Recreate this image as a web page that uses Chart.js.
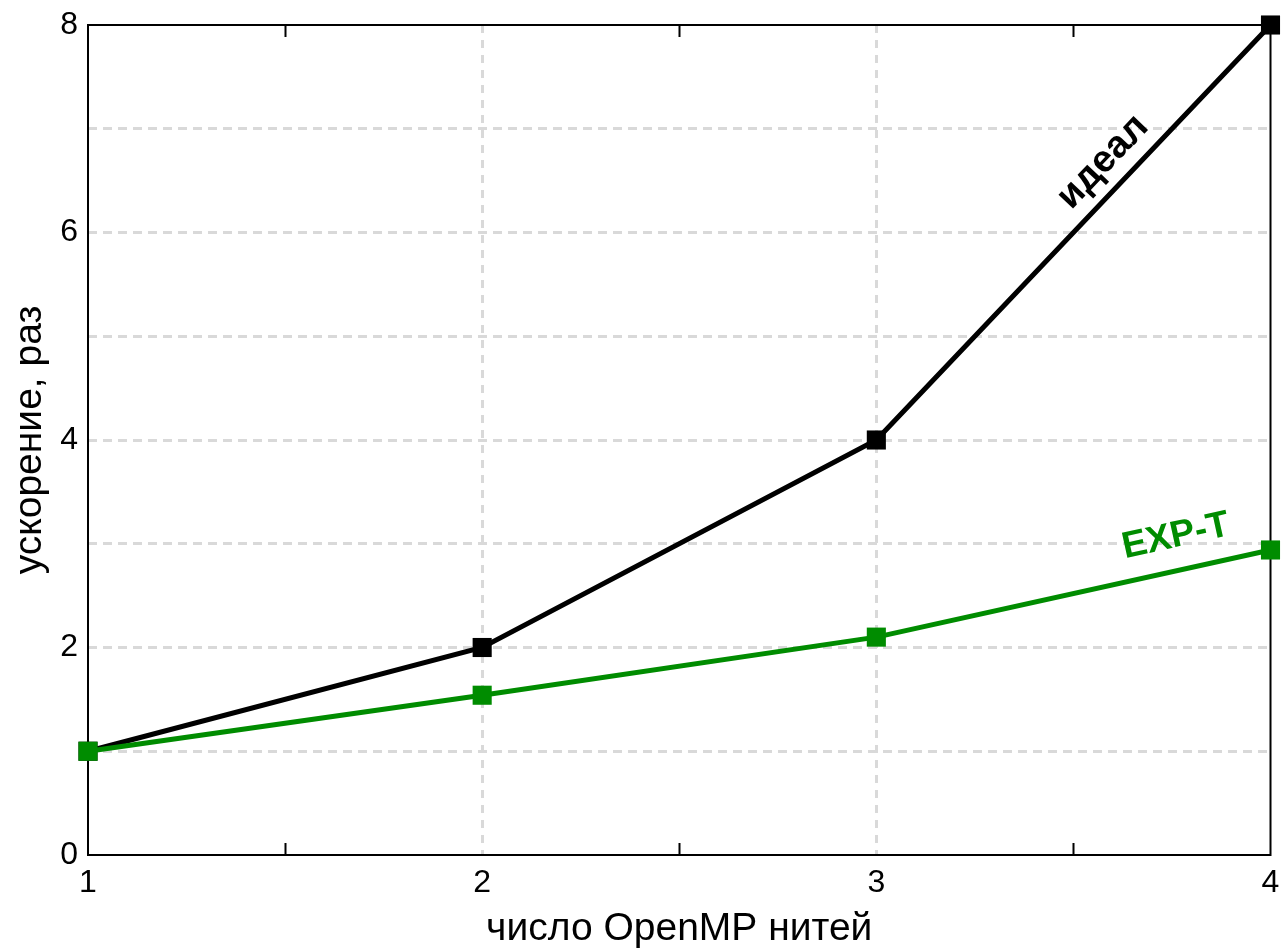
<!DOCTYPE html>
<html>
<head>
<meta charset="utf-8">
<script src="https://cdn.jsdelivr.net/npm/chart.js@4/dist/chart.umd.min.js"></script>
<style>
  html, body { margin: 0; padding: 0; background: #ffffff; }
  #wrap { width: 1284px; height: 949px; }
</style>
</head>
<body>
<div id="wrap"><canvas id="c" width="1284" height="949"></canvas></div>
<script>
// ---- data ----
const threads = [1, 2, 3, 4];
const idealSpeedup = [1, 2, 4, 8];
const expTSpeedup = [1, 1.54, 2.10, 2.94];
const xTickValues = [1, 2, 3, 4];
const xMinorTicks = [1.5, 2.5, 3.5];
const yLabelValues = [0, 2, 4, 6, 8];
const xTitle = 'число OpenMP нитей';
const yTitle = 'ускорение, раз';
const seriesNames = ['идеал', 'EXP-T'];

const FONT = '"Liberation Sans", Arial, Helvetica, sans-serif';
const GREEN = '#008c00';
const GRID = '#d9d9d9';

// in-plot series labels (anchor in data coords; angle follows last segment)
const lineLabels = [
  { text: seriesNames[0], ds: 1, x: 3.575, y: 6.68, color: '#000000', size: 38 },
  { text: seriesNames[1], ds: 0, x: 3.76, y: 3.07, color: GREEN, size: 37 }
];

const framePlugin = {
  id: 'frame',
  beforeDatasetsDraw(chart) {
    const { ctx, chartArea: a, scales: { x } } = chart;
    ctx.save();
    ctx.strokeStyle = '#000';
    ctx.lineWidth = 2;
    ctx.strokeRect(a.left, a.top, a.right - a.left, a.bottom - a.top);
    ctx.beginPath();
    xMinorTicks.forEach(v => {
      const px = Math.round(x.getPixelForValue(v)) + 0.5;
      ctx.moveTo(px, a.bottom); ctx.lineTo(px, a.bottom - 12);
      ctx.moveTo(px, a.top); ctx.lineTo(px, a.top + 12);
    });
    ctx.lineWidth = 2;
    ctx.stroke();
    ctx.restore();
  },
  afterDatasetsDraw(chart) {
    const { ctx, scales: { x, y } } = chart;
    ctx.save();
    lineLabels.forEach(l => {
      const d = chart.data.datasets[l.ds].data;
      const n = d.length;
      const x0 = x.getPixelForValue(d[n - 2].x), y0 = y.getPixelForValue(d[n - 2].y);
      const x1 = x.getPixelForValue(d[n - 1].x), y1 = y.getPixelForValue(d[n - 1].y);
      const ang = Math.atan2(y1 - y0, x1 - x0);
      ctx.translate(x.getPixelForValue(l.x), y.getPixelForValue(l.y));
      ctx.rotate(ang);
      ctx.font = 'bold ' + l.size + 'px ' + FONT;
      ctx.fillStyle = l.color;
      ctx.textAlign = 'center';
      ctx.textBaseline = 'middle';
      ctx.fillText(l.text, 0, 0);
      ctx.setTransform(1, 0, 0, 1, 0, 0);
    });
    ctx.restore();
  }
};

const mk = (ys) => threads.map((t, i) => ({ x: t, y: ys[i] }));

new Chart(document.getElementById('c'), {
  type: 'line',
  data: {
    datasets: [
      {
        label: seriesNames[1],
        data: mk(expTSpeedup),
        borderColor: GREEN, backgroundColor: GREEN,
        borderWidth: 5, pointStyle: 'rect', pointRadius: 13.5,
        pointBorderWidth: 0, pointBackgroundColor: GREEN,
        tension: 0, clip: false, order: 0
      },
      {
        label: seriesNames[0],
        data: mk(idealSpeedup),
        borderColor: '#000', backgroundColor: '#000',
        borderWidth: 5, pointStyle: 'rect', pointRadius: 13.5,
        pointBorderWidth: 0, pointBackgroundColor: '#000',
        tension: 0, clip: false, order: 1
      }
    ]
  },
  options: {
    responsive: false,
    animation: false,
    devicePixelRatio: 1,
    layout: { padding: { top: 25, right: 8, left: 0, bottom: 0 } },
    plugins: { legend: { display: false }, tooltip: { enabled: false } },
    scales: {
      x: {
        type: 'linear', min: 1, max: 4,
        afterBuildTicks: s => { s.ticks = xTickValues.map(v => ({ value: v })); },
        afterFit: s => { s.height = 94; s.paddingLeft = 0; s.paddingRight = 0; },
        grid: {
          drawTicks: false,
          lineWidth: 3,
          color: c => (c.tick && (c.tick.value === 1 || c.tick.value === 4)) ? 'rgba(0,0,0,0)' : GRID
        },
        border: { display: false, dash: [8, 7] },
        ticks: {
          padding: 9, color: '#000', autoSkip: false, maxRotation: 0,
          font: { family: FONT, size: 32 },
          callback: v => String(v)
        },
        title: {
          display: true, text: xTitle, color: '#000',
          font: { family: FONT, size: 39, lineHeight: 1 },
          padding: { top: 0, bottom: 0 }
        }
      },
      y: {
        type: 'linear', min: 0, max: 8,
        afterFit: s => { s.width = 88; s.paddingTop = 0; s.paddingBottom = 0; },
        grid: {
          drawTicks: false,
          lineWidth: 3,
          color: c => (c.tick && (c.tick.value === 0 || c.tick.value === 8)) ? 'rgba(0,0,0,0)' : GRID
        },
        border: { display: false, dash: [9, 6] },
        ticks: {
          stepSize: 1, padding: 10, color: '#000', autoSkip: false,
          font: { family: FONT, size: 32 },
          callback: v => yLabelValues.includes(v) ? String(v) : ''
        },
        title: {
          display: true, text: yTitle, color: '#000',
          font: { family: FONT, size: 39, lineHeight: 1 },
          padding: { top: 11, bottom: 0 }
        }
      }
    }
  },
  plugins: [framePlugin]
});
</script>
</body>
</html>
